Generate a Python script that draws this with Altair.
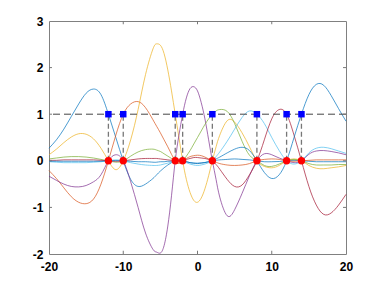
import altair as alt
import pandas as pd

x_grid = [-20, -19, -18, -17, -16, -15, -14, -13, -12, -11, -10, -9, -8, -7,
          -6, -5.5, -5, -4.5, -4, -3.5, -3, -2.5, -2, -1.5, -1, -0.5, 0, 0.5, 1, 1.5, 2, 2.5, 3,
          4, 5, 6, 7, 8, 9, 10, 11, 12, 13, 14, 15, 16, 17, 18, 19, 20]

nodes = [-12, -10, -3, -2, 2, 8, 12, 14]

curve_a = [0.27, 0.45, 0.68, 0.95, 1.22, 1.45, 1.54, 1.42, 1.0, 0.5, 0, -0.4, -0.55, -0.5,
           -0.38, -0.3, -0.22, -0.15, -0.09, -0.04, 0, 0.01, 0, -0.02, -0.04, -0.05, -0.05, -0.045, -0.035, -0.02, 0, 0.01, 0.02,
           0.03, 0.04, 0.03, 0.02, 0, -0.02, -0.02, -0.015, 0, 0.01, 0, -0.01, -0.02, -0.02, -0.02, -0.02, -0.02]
curve_b = [-0.21, -0.38, -0.58, -0.77, -0.89, -0.92, -0.82, -0.5, 0, 0.55, 1.0, 1.22, 1.27, 1.14,
           0.88, 0.74, 0.6, 0.45, 0.3, 0.14, 0, -0.06, 0, 0.05, 0.09, 0.11, 0.12, 0.11, 0.08, 0.04, 0, -0.03, -0.06,
           -0.09, -0.1, -0.09, -0.06, 0, 0.03, 0.04, 0.03, 0, -0.01, 0, 0.01, 0.02, 0.02, 0.02, 0.02, 0.02]
curve_c = [0.13, 0.25, 0.39, 0.51, 0.58, 0.57, 0.47, 0.27, 0, -0.19, 0, 0.45, 1.1, 1.85,
           2.4, 2.51, 2.48, 2.3, 1.95, 1.5, 1.0, 0.5, 0, -0.4, -0.68, -0.85, -0.89, -0.8, -0.6, -0.32, 0, 0.3, 0.55,
           0.86, 0.83, 0.6, 0.3, 0, -0.12, -0.15, -0.1, 0, 0.04, 0, -0.1, -0.16, -0.17, -0.15, -0.13, -0.1]
curve_d = [-0.33, -0.42, -0.5, -0.55, -0.56, -0.53, -0.45, -0.3, 0, 0.13, 0, -0.45, -1.0, -1.55,
           -1.9, -1.96, -1.98, -1.82, -1.4, -0.75, 0, 0.55, 1.0, 1.35, 1.55, 1.59, 1.5, 1.25, 0.9, 0.45, 0, -0.4, -0.78,
           -1.18, -1.05, -0.7, -0.32, 0, 0.15, 0.13, 0.06, 0, -0.04, 0, 0.14, 0.21, 0.22, 0.2, 0.17, 0.13]
curve_e = [0.04, 0.06, 0.08, 0.09, 0.09, 0.08, 0.06, 0.03, 0, -0.03, 0, 0.1, 0.19, 0.24,
           0.25, 0.23, 0.2, 0.15, 0.1, 0.05, 0, -0.03, 0, 0.1, 0.22, 0.36, 0.5, 0.64, 0.78, 0.9, 1.0, 1.07, 1.1,
           1.06, 0.8, 0.42, 0.12, 0, -0.1, -0.12, -0.07, 0, 0.03, 0, -0.06, -0.09, -0.09, -0.09, -0.08, -0.08]
curve_f = [-0.02, -0.03, -0.04, -0.04, -0.04, -0.04, -0.03, -0.02, 0, 0.02, 0, -0.04, -0.07, -0.09,
           -0.1, -0.1, -0.09, -0.07, -0.05, -0.03, 0, 0.02, 0, -0.04, -0.07, -0.09, -0.1, -0.09, -0.07, -0.04, 0, 0.09, 0.19,
           0.42, 0.68, 0.93, 1.07, 1.0, 0.8, 0.5, 0.22, 0, -0.07, 0, 0.17, 0.27, 0.29, 0.26, 0.21, 0.16]
curve_g = [0.01, 0.01, 0.02, 0.02, 0.02, 0.02, 0.02, 0.01, 0, -0.01, 0, 0.02, 0.04, 0.05,
           0.05, 0.05, 0.04, 0.03, 0.02, 0.01, 0, -0.01, 0, 0.03, 0.05, 0.07, 0.07, 0.06, 0.05, 0.03, 0, -0.08, -0.18,
           -0.4, -0.55, -0.52, -0.3, 0, 0.45, 0.9, 1.1, 1.0, 0.55, 0, -0.55, -0.95, -1.15, -1.12, -0.95, -0.72]
curve_h = [-0.01, -0.01, -0.01, -0.01, -0.01, -0.01, -0.01, -0.01, 0, 0.005, 0, -0.01, -0.02, -0.02,
           -0.03, -0.03, -0.02, -0.02, -0.01, -0.01, 0, 0.01, 0, -0.02, -0.04, -0.05, -0.06, -0.05, -0.04, -0.02, 0, 0.04, 0.08,
           0.17, 0.25, 0.29, 0.22, 0, -0.25, -0.38, -0.3, 0, 0.5, 1.0, 1.42, 1.64, 1.62, 1.4, 1.12, 0.85]

names = ["L1", "L2", "L3", "L4", "L5", "L6", "L7", "L8"]
series = [curve_a, curve_b, curve_c, curve_d, curve_e, curve_f, curve_g, curve_h]
colors = ["#0072BD", "#D95319", "#EDB120", "#7E2F8E", "#77AC30", "#4DBEEE", "#A2142F", "#0072BD"]

x_ticks = [-20, -10, 0, 10, 20]
y_ticks = [-2, -1, 0, 1, 2, 3]

rows = []
for k, (name, vals) in enumerate(zip(names, series)):
    for x, y in zip(x_grid, vals):
        rows.append({"curve": name, "k": k, "x": x, "y": y})
df = pd.DataFrame(rows)

xs = alt.Scale(domain=[-20, 20], nice=False, zero=False)
ys = alt.Scale(domain=[-2, 3], nice=False, zero=False)
FONT = "Liberation Sans"

x_axis = alt.Axis(values=x_ticks, ticks=False, domain=False, grid=False, title=None,
                  labelFont=FONT, labelFontSize=12, labelFontWeight="bold", labelColor="#000000",
                  labelPadding=7, labelFlush=False, labelOverlap=False, labelExpr="'' + datum.value")
y_axis = alt.Axis(values=y_ticks, ticks=False, domain=False, grid=False, title=None,
                  labelFont=FONT, labelFontSize=12, labelFontWeight="bold", labelColor="#000000",
                  labelPadding=6, labelFlush=False, labelOverlap=False, labelExpr="'' + datum.value")

lines = alt.Chart(df).mark_line(strokeWidth=1, opacity=0.7, interpolate="natural").encode(
    x=alt.X("x:Q", scale=xs, axis=x_axis),
    y=alt.Y("y:Q", scale=ys, axis=y_axis),
    color=alt.Color("curve:N", scale=alt.Scale(domain=names, range=colors), legend=None),
)

hline = alt.Chart(pd.DataFrame({"y": [1]})).mark_rule(
    strokeDash=[7, 4], color="#444444", strokeWidth=1).encode(y=alt.Y("y:Q", scale=ys))

node_df = pd.DataFrame({"x": nodes, "y0": [0] * len(nodes), "y1": [1] * len(nodes)})
vlines = alt.Chart(node_df).mark_rule(strokeDash=[5, 3], color="#777777", strokeWidth=1.3).encode(
    x=alt.X("x:Q", scale=xs), y=alt.Y("y0:Q", scale=ys), y2="y1:Q")
squares = alt.Chart(node_df).mark_square(size=42, color="#0000FF", opacity=1).encode(
    x=alt.X("x:Q", scale=xs), y=alt.Y("y1:Q", scale=ys))
circles = alt.Chart(node_df).mark_circle(size=55, color="#FF0000", opacity=1).encode(
    x=alt.X("x:Q", scale=xs), y=alt.Y("y0:Q", scale=ys))

# inward tick marks on all four sides
tx = pd.DataFrame({"t": [-10, 0, 10]})
ty = pd.DataFrame({"t": [-1, 0, 1, 2]})
tick_style = dict(color="#777777", strokeWidth=1)
bt = alt.Chart(tx).transform_calculate(a="-2", b="-2 + 0.07").mark_rule(**tick_style).encode(
    x=alt.X("t:Q", scale=xs), y=alt.Y("a:Q", scale=ys), y2="b:Q")
tt = alt.Chart(tx).transform_calculate(a="3", b="3 - 0.07").mark_rule(**tick_style).encode(
    x=alt.X("t:Q", scale=xs), y=alt.Y("a:Q", scale=ys), y2="b:Q")
lt = alt.Chart(ty).transform_calculate(a="-20", b="-20 + 0.4").mark_rule(**tick_style).encode(
    y=alt.Y("t:Q", scale=ys), x=alt.X("a:Q", scale=xs), x2="b:Q")
rt = alt.Chart(ty).transform_calculate(a="20", b="20 - 0.4").mark_rule(**tick_style).encode(
    y=alt.Y("t:Q", scale=ys), x=alt.X("a:Q", scale=xs), x2="b:Q")

chart = alt.layer(lines, hline, vlines, bt, tt, lt, rt, squares, circles).properties(
    width=297, height=233, autosize="none",
    padding={"left": 41, "top": 13, "right": 28, "bottom": 25},
    background="white",
).configure_view(stroke="#808080", strokeWidth=1)

chart.save("out.html", embed_options={"renderer": "svg", "actions": False})
